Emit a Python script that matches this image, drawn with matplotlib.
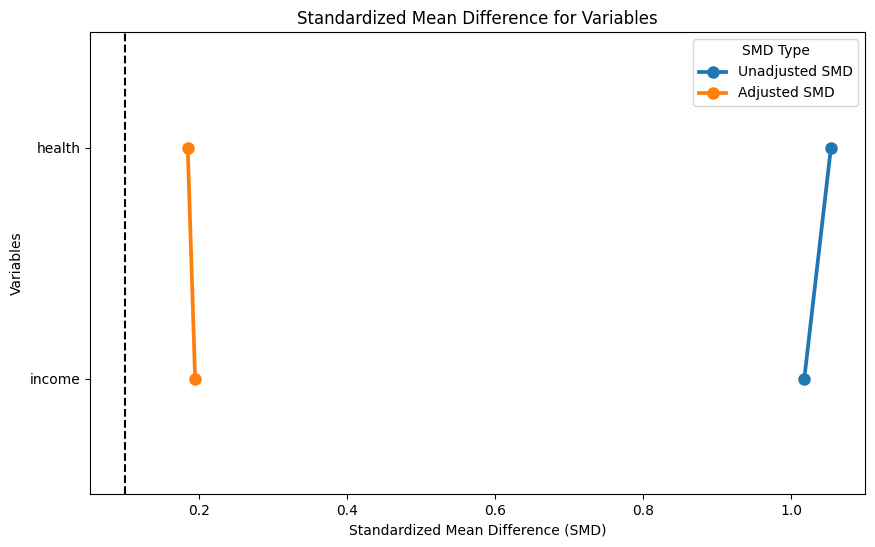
import matplotlib
matplotlib.use("Agg")
import matplotlib.pyplot as plt

variables = ["health", "income"]
unadjusted_smd = [1.054, 1.018]
adjusted_smd = [0.185, 0.195]
threshold = 0.1
series_names = ["Unadjusted SMD", "Adjusted SMD"]
colors = ["#1f77b4", "#ff7f0e"]

fig = plt.figure(figsize=(8.75, 5.47), dpi=100)
ax = fig.add_axes([90/875, 1 - 494/547, 775/875, 462/547])

ypos = list(range(len(variables)))
for vals, name, c in zip([unadjusted_smd, adjusted_smd], series_names, colors):
    ax.plot(vals, ypos, marker="o", color=c, linewidth=2.7, markersize=8, label=name)

ax.axvline(threshold, color="black", linestyle="--", linewidth=1.5)
ax.set_yticks(ypos)
ax.set_yticklabels(variables)
ax.set_ylim(1.5, -0.5)
ax.set_xlim(0.053, 1.1)
ax.set_xlabel("Standardized Mean Difference (SMD)")
ax.set_ylabel("Variables")
ax.set_title("Standardized Mean Difference for Variables")
ax.legend(title="SMD Type", loc="upper right")

fig.savefig("out.png", dpi=100)
